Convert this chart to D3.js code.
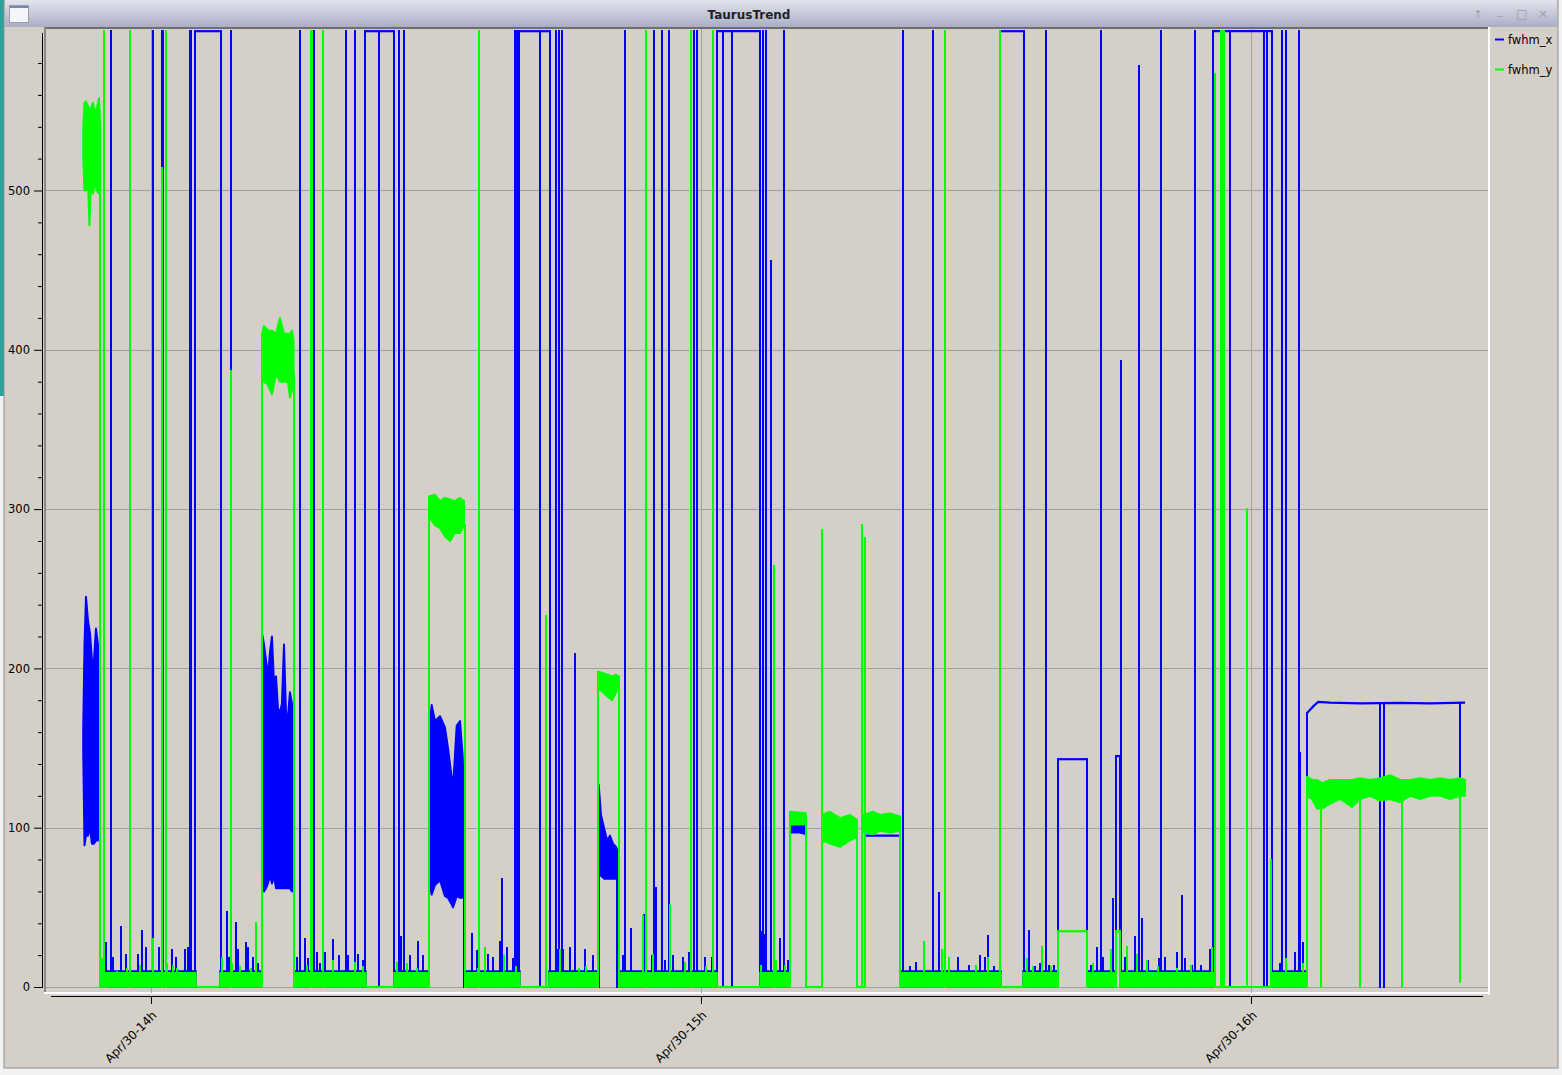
<!DOCTYPE html>
<html><head><meta charset="utf-8">
<script src="https://cdn.jsdelivr.net/npm/d3@7"></script>
<style>
html,body{margin:0;padding:0;background:#d4d0c8;overflow:hidden;}
svg{display:block;font-family:"DejaVu Sans",sans-serif;}
</style></head><body>
<svg id="c" width="1562" height="1075"></svg>
<script>
// ---------------- DATA (time = minutes after Apr/30 14:00) ----------------
const seriesNames = ["fwhm_x", "fwhm_y"];
const timeTicks = [0, 60, 120];
const tickLabels = ["Apr/30-14h", "Apr/30-15h", "Apr/30-16h"];
const yTicks = [0, 100, 200, 300, 400, 500];
const timeDomain = [-11.45, 145.85];
const valueDomain = [0, 600];

// periods where both signals sit in the low-level noise floor [start, end]
const lowBlocks = [[-5.55,4.91],[7.53,12.11],[15.60,23.45],[26.51,30.33],[34.25,40.25],[43.42,48.76],
  [51.05,61.75],[66.44,69.71],[81.71,92.73],[95.13,98.95],[102.11,105.16],[105.82,116.07],[122.29,126.11]];
const xLowLevel = 10;
const yLowLevel = 9;

// noisy blocks: [time, low, high]
const xBand1 = [[-7.39,147,163],[-7.25,89,215],[-7.09,95,245],[-6.87,95,230],[-6.65,100,222],[-6.44,90,205],
  [-6.22,90,205],[-6.00,92,225],[-5.78,92,215],[-5.60,100,185]];
const xBand2 = [[12.11,75,222],[12.33,60,215],[12.55,62,205],[12.76,65,195],[12.98,70,210],[13.20,65,220],
  [13.42,70,190],[13.64,62,195],[13.85,62,175],[14.07,62,172],[14.29,62,178],[14.51,62,215],[14.73,62,172],
  [14.95,62,170],[15.16,62,185],[15.38,60,178],[15.58,75,165]];
const xBand3 = [[30.33,62,150],[30.44,63,167],[30.62,58,177],[30.98,64,167],[31.53,67,170],[32.07,57,163],
  [32.40,56,150],[32.95,50,125],[33.35,57,164],[33.71,56,167],[34.00,56,145],[34.15,60,120]];
const xBand4 = [[48.84,70,127],[49.09,70,108],[49.42,68,100],[49.75,68,92],[50.07,68,95],[50.40,68,90],
  [50.73,68,88],[50.89,68,85]];
const xBand5 = [[69.71,97,105],[70.80,97,104],[71.40,96,103]];

const yBand1 = [[-7.39,520,540],[-7.25,500,555],[-7.09,500,556],[-6.87,505,553],[-6.71,478,550],[-6.55,505,552],
  [-6.33,498,555],[-6.11,505,548],[-5.89,500,552],[-5.67,498,558],[-5.53,500,540]];
const yBand2 = [[12.11,385,410],[12.33,380,415],[12.76,378,412],[13.20,372,412],[13.64,385,410],[14.07,380,420],
  [14.51,380,410],[14.95,380,410],[15.16,370,410],[15.38,375,412],[15.55,385,405]];
const yBand3 = [[30.33,295,308],[30.98,290,309],[31.53,288,305],[32.07,283,307],[32.62,280,306],[33.16,285,305],
  [33.71,285,307],[34.15,290,305]];
const yBand4 = [[48.76,188,198],[49.31,185,197],[49.85,182,196],[50.29,180,195],[50.73,185,196],[51.05,190,195]];
const yBand5 = [[69.71,102,110],[71.45,102,109]];
const yBand6 = [[73.20,92,108],[74.07,90,110],[75.16,88,106],[76.25,92,108],[77.02,94,105]];
const yBand7 = [[77.78,97,108],[78.76,96,110],[79.53,98,108],[80.62,97,109],[81.71,98,107]];
const yBand8 = [[126.11,120,132],[126.65,118,130],[127.20,112,130],[127.75,112,128],[128.62,115,130],
  [129.71,118,130],[131.02,113,130],[131.89,118,131],[132.98,120,130],[134.07,117,131],[135.16,118,133],
  [136.25,116,130],[137.35,120,130],[138.44,118,131],[139.53,120,130],[140.62,120,131],[141.71,118,130],
  [142.80,120,131],[143.35,120,130]];

// steady levels: polylines of [time, value]
const xLevels = [
  [[4.80,600],[7.69,600]], [[23.30,600],[26.51,600]], [[40.15,600],[43.48,600]],
  [[61.72,600],[66.44,600]], [[92.62,600],[95.24,600]], [[115.85,600],[122.29,600]],
  [[73.20,97],[77.02,97]], [[77.78,95],[81.71,95]], [[98.95,143],[102.11,143]], [[105.27,145],[105.71,145]],
  [[126.11,172],[126.44,174],[126.76,176],[127.31,179],[128.62,178.5],[131.89,178],[136.25,178.3],
   [139.53,178],[143.35,178.5]]
];
const yLevels = [
  [[4.91,0],[7.53,0]], [[23.45,0],[26.51,0]], [[40.25,0],[43.42,0]], [[61.75,0],[66.44,0]],
  [[71.45,0],[73.20,0]], [[77.02,0],[77.78,0]], [[92.73,0],[95.13,0]], [[116.07,0],[122.29,0]],
  [[98.95,35],[102.11,35]], [[105.27,35],[105.71,35]]
];

// full-scale jumps (0 <-> 600)
const xJumps = [-4.40,0.22,1.15,1.31,4.22,4.42,4.80,7.69,8.78,16.25,17.74,21.27,22.25,23.30,24.87,26.51,27.01,
  27.56,39.71,39.88,40.15,42.49,43.48,44.18,44.51,44.89,51.71,54.87,55.75,56.56,59.24,59.51,61.72,62.40,63.38,
  66.44,66.76,67.09,69.02,82.04,85.28,92.62,95.24,97.64,103.64,110.18,113.89,115.85,117.71,121.42,121.74,
  122.29,123.38,123.82,125.24];
const yJumps = [-5.15,-2.29,1.64,17.45,17.62,18.74,35.78,54.00,58.91,61.26,86.60,92.62,116.67,116.89,117.05];

// partial excursions [time, from, to]
const xSpikes = [[-5.56,0,100],[12.11,0,75],[15.60,0,75],[30.33,0,62],[34.15,0,60],[48.84,0,70],[50.89,0,68],
  [38.26,0,68],[46.25,0,209],[55.04,0,62],[67.64,0,456],[85.96,0,59],[91.28,0,32],[95.81,0,35],[104.98,0,55],
  [105.82,0,393],[107.78,0,578],[108.14,0,43],[112.44,0,57],[125.35,0,147],[98.95,0,143],[102.11,0,143],
  [105.27,0,145],[105.71,0,145],[126.11,0,172],[134.07,0,178],[134.51,0,178],[142.80,107,178]];
const ySpikes = [[-5.53,0,500],[1.17,0,514],[8.69,0,387],[116.07,0,573],[43.06,0,233],[67.96,0,264],
  [73.20,0,287],[77.56,0,290],[77.89,0,282],[119.56,0,300],[122.18,0,80],[12.11,0,385],[15.55,0,385],
  [30.33,0,295],[34.25,0,290],[48.76,0,188],[51.05,0,190],[69.71,0,108],[71.45,0,108],[77.02,0,100],
  [81.71,0,100],[98.95,0,35],[102.11,0,35],[105.27,0,35],[105.71,0,35],[126.11,0,125],[127.60,0,120],
  [131.89,0,120],[136.44,0,120],[142.80,3,120]];

// noise-floor peaks [time, value]
const xTips = [[-4.91,28],[-4.15,19],[-3.27,38],[-2.73,21],[-2.29,27],[-1.45,21],[-0.95,36],[-0.55,25],[0.91,25],
  [2.26,24],[2.73,19],[3.71,24],[4.00,25],[8.26,48],[8.50,19],[9.24,41],[9.49,24],[10.36,28],[10.61,25],
  [11.16,19],[11.71,15],[15.89,19],[16.80,31],[17.10,18],[18.08,22],[18.40,15],[18.98,22],[19.82,30],
  [20.51,20],[21.49,20],[22.58,21],[23.13,17],[27.24,32],[28.25,20],[29.16,29],[29.67,20],[34.99,34],
  [35.53,23],[36.80,21],[37.34,19],[38.10,29],[38.80,25],[39.50,18],[44.26,24],[44.91,24],[45.71,25],
  [47.35,24],[48.25,20],[51.49,20],[52.36,37],[53.78,46],[54.62,20],[56.07,17],[56.98,20],[58.07,19],
  [58.72,22],[59.56,24],[60.44,19],[61.17,19],[66.51,35],[66.90,33],[68.62,31],[69.05,27],[69.50,17],
  [82.80,13],[83.45,16],[88.07,19],[89.20,14],[90.44,20],[91.00,19],[92.00,13],[96.40,13],[97.00,15],
  [98.00,14],[98.50,14],[102.50,14],[103.17,25],[103.80,19],[106.20,19],[107.35,32],[108.80,17],[110.00,18],
  [110.60,19],[111.89,22],[112.80,18],[113.60,14],[114.50,14],[115.53,24],[123.16,15],[124.80,22],[125.64,28]];
const yTips = [[-5.38,18],[-3.74,10],[-2.59,12],[-1.20,14],[0.25,31],[1.71,15],[2.43,14],[2.80,12],[7.71,19],
  [8.80,15],[9.71,13],[11.45,41],[10.90,12],[16.99,14],[18.80,25],[19.85,17],[22.25,16],[23.13,13],[26.80,16],
  [27.89,15],[28.99,12],[36.44,25],[35.70,12],[38.50,20],[39.80,13],[44.60,24],[46.70,12],[47.50,13],
  [53.67,45],[54.76,21],[56.62,52],[58.30,16],[60.50,13],[66.60,14],[68.20,17],[69.20,14],[84.36,29],
  [86.26,24],[87.00,19],[90.00,14],[91.34,19],[95.53,18],[96.20,13],[97.23,26],[98.20,13],[102.80,15],
  [104.69,24],[106.44,26],[107.60,21],[108.60,17],[109.90,13],[111.90,12],[113.50,14],[115.71,25],
  [123.82,18],[125.64,15]];

const seriesData = [
  {name: seriesNames[0], color: "#0000ff", low: xLowLevel, bands: [xBand1,xBand2,xBand3,xBand4,xBand5],
   levels: xLevels, jumps: xJumps, spikes: xSpikes, tips: xTips},
  {name: seriesNames[1], color: "#00ff00", low: yLowLevel, bands: [yBand1,yBand2,yBand3,yBand4,yBand5,yBand6,yBand7,yBand8],
   levels: yLevels, jumps: yJumps, spikes: ySpikes, tips: yTips}
];

// ---------------- DRAWING ----------------
const svg = d3.select("#c");
const base = new Date(2024, 3, 30, 14, 0, 0).getTime();
const T = m => new Date(base + m * 60000);

const x = d3.scaleTime().domain(timeDomain.map(T)).range([46, 1488]);
const y = d3.scaleLinear().domain(valueDomain).range([987, 31.2]);

const defs = svg.append("defs");
const tg = defs.append("linearGradient").attr("id","tb").attr("x1",0).attr("y1",0).attr("x2",0).attr("y2",1);
tg.append("stop").attr("offset","0%").attr("stop-color","#e3e4ec");
tg.append("stop").attr("offset","100%").attr("stop-color","#aaaec4");
defs.append("clipPath").attr("id","plotclip").append("rect").attr("x",46).attr("y",29).attr("width",1442).attr("height",964);

// desktop / window frame
svg.append("rect").attr("x",0).attr("y",0).attr("width",1562).attr("height",1075).attr("fill","#f2f2f2");
svg.append("rect").attr("x",0).attr("y",0).attr("width",5).attr("height",396).attr("fill","#2ba39b");
svg.append("rect").attr("x",4).attr("y",0).attr("width",1554).attr("height",1068).attr("fill","#d4d0c8").attr("stroke","#8e8e96").attr("stroke-width",1);
svg.append("rect").attr("x",5).attr("y",0).attr("width",1552).attr("height",27).attr("fill","url(#tb)");
// window icon
svg.append("rect").attr("x",9.5).attr("y",5.5).attr("width",19).attr("height",17).attr("fill","#f4f5f8").attr("stroke","#9a9ca8");
svg.append("rect").attr("x",10).attr("y",6).attr("width",18).attr("height",2).attr("fill","#6f89b0");
svg.append("text").attr("x",749).attr("y",18.5).attr("text-anchor","middle").attr("font-size","12px")
  .attr("font-weight","bold").attr("fill","#222").text("TaurusTrend");
const btns = ["\u2191","_","\u25a1","\u2715"], bx=[1478,1500,1522,1543];
btns.forEach((b,i)=>svg.append("text").attr("x",bx[i]).attr("y",i==1?14:18).attr("text-anchor","middle")
  .attr("font-size", i==2?"12px":"11px").attr("fill","#9ea0ac").text(b));

// plot canvas frame
svg.append("rect").attr("x",45).attr("y",27).attr("width",1444).attr("height",2).attr("fill","#6e6e6e");
svg.append("rect").attr("x",44).attr("y",27).attr("width",2).attr("height",967).attr("fill","#8a8a8a");
svg.append("rect").attr("x",1488).attr("y",27).attr("width",2).attr("height",968).attr("fill","#ffffff");
svg.append("rect").attr("x",44).attr("y",992).attr("width",1446).attr("height",2).attr("fill","#ffffff");

// grid
const grid = svg.append("g").attr("clip-path","url(#plotclip)").attr("shape-rendering","crispEdges");
grid.selectAll("line.h").data(yTicks).join("line").attr("x1",46).attr("x2",1488)
  .attr("y1",d=>Math.round(y(d))+0.5).attr("y2",d=>Math.round(y(d))+0.5).attr("stroke","#a0a0a4");
grid.selectAll("line.v").data(timeTicks).join("line").attr("y1",29).attr("y2",993)
  .attr("x1",d=>Math.round(x(T(d)))+0.5).attr("x2",d=>Math.round(x(T(d)))+0.5).attr("stroke","#a0a0a4");

// series
const plot = svg.append("g").attr("clip-path","url(#plotclip)");
const area = d3.area().x(d=>x(T(d[0]))).y0(d=>y(d[1])).y1(d=>y(d[2]));
const line = d3.line().x(d=>x(T(d[0]))).y(d=>y(d[1]));
const px = t => Math.round(x(T(t)));

seriesData.forEach(s => {
  const g = plot.append("g").attr("class", s.name);
  // noise floor
  g.selectAll("path.low").data(lowBlocks).join("path").attr("class","low")
    .attr("d", d => area([[d[0],0,s.low],[d[1],0,s.low]])).attr("fill", s.color)
    .attr("stroke", s.color).attr("stroke-width",1.5);
  // noisy blocks
  g.selectAll("path.band").data(s.bands).join("path").attr("class","band")
    .attr("d", area).attr("fill", s.color).attr("stroke", s.color).attr("stroke-width",2).attr("stroke-linejoin","round");
  // noise-floor peaks
  g.selectAll("line.tip").data(s.tips).join("line").attr("class","tip")
    .attr("x1",d=>px(d[0])).attr("x2",d=>px(d[0])).attr("y1",y(0)).attr("y2",d=>y(d[1]))
    .attr("stroke", s.color).attr("stroke-width",2).attr("shape-rendering","crispEdges");
  // full-scale jumps
  g.selectAll("line.jump").data(s.jumps).join("line").attr("class","jump")
    .attr("x1",d=>px(d)).attr("x2",d=>px(d)).attr("y1",y(0)+1).attr("y2",y(600)-1)
    .attr("stroke", s.color).attr("stroke-width",2).attr("shape-rendering","crispEdges");
  // partial excursions
  g.selectAll("line.spike").data(s.spikes).join("line").attr("class","spike")
    .attr("x1",d=>px(d[0])).attr("x2",d=>px(d[0])).attr("y1",d=>y(d[1])+1).attr("y2",d=>y(d[2])-1)
    .attr("stroke", s.color).attr("stroke-width",2).attr("shape-rendering","crispEdges");
  // steady levels
  g.selectAll("path.level").data(s.levels).join("path").attr("class","level")
    .attr("d", line).attr("fill","none").attr("stroke", s.color).attr("stroke-width",2.2);
});

// axes
const yAxisG = svg.append("g").attr("transform","translate(42,0)");
yAxisG.call(d3.axisLeft(y).tickValues(yTicks).tickSize(8).tickSizeOuter(0).tickPadding(4));
const yMinor = d3.range(valueDomain[0], valueDomain[1] + 1, 20).filter(v => v % 100 !== 0);
svg.append("g").attr("transform","translate(42,0)")
  .call(d3.axisLeft(y).tickValues(yMinor).tickSize(4).tickFormat("").tickSizeOuter(0))
  .select(".domain").remove();
yAxisG.select(".domain").attr("d", `M0.5,33V${y(0)+1}`);
yAxisG.selectAll("text").attr("font-size","11.5px").attr("font-family","DejaVu Sans").attr("fill","#000");

const xAxisG = svg.append("g").attr("transform","translate(0,996)");
xAxisG.call(d3.axisBottom(x).tickValues(timeTicks.map(T)).tickFormat((d,i)=>tickLabels[i]).tickSize(8).tickSizeOuter(0));
xAxisG.select(".domain").attr("d","M51,0.5H1483");
xAxisG.selectAll("text").attr("y",0).attr("dy",0).attr("text-anchor","end")
  .attr("transform","translate(6,20) rotate(-45)").attr("font-size","12px").attr("font-family","DejaVu Sans").attr("fill","#000");

// legend
const leg = svg.append("g");
seriesData.forEach((s,i) => {
  const ly = 39.5 + i*30;
  leg.append("line").attr("x1",1495).attr("x2",1504).attr("y1",ly).attr("y2",ly).attr("stroke",s.color).attr("stroke-width",2);
  leg.append("text").attr("x",1508).attr("y",ly+4).attr("font-size","11.5px").attr("fill","#000").text(s.name);
});
</script>
</body></html>
